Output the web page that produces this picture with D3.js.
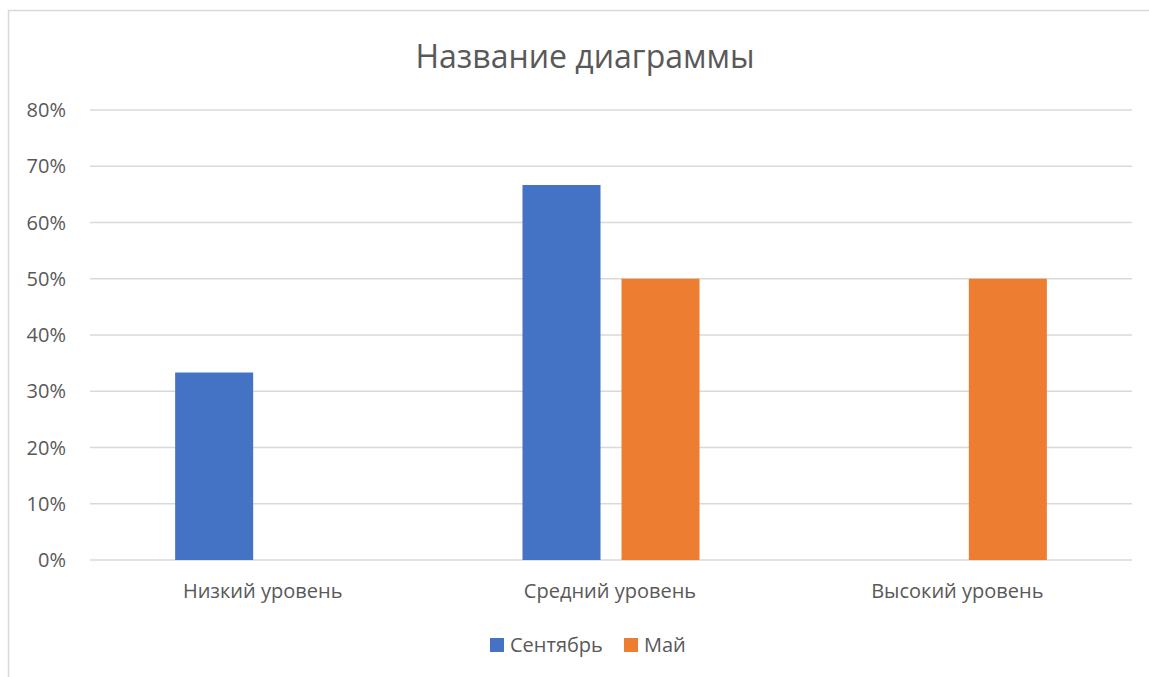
<!DOCTYPE html>
<html><head><meta charset="utf-8">
<script src="https://cdn.jsdelivr.net/npm/d3@7"></script>
<style>html,body{margin:0;padding:0;background:#fff;}</style>
</head><body>
<svg id="c" width="1149" height="677"></svg>
<script>
const categories = ["Низкий уровень", "Средний уровень", "Высокий уровень"];
const seriesNames = ["Сентябрь", "Май"];
const septValues = [0.3333, 0.6667, 0];
const mayValues = [0, 0.5, 0.5];
const yTicks = [0, 0.1, 0.2, 0.3, 0.4, 0.5, 0.6, 0.7, 0.8];
const colors = ["#4472C4", "#ED7D31"];
const title = "Название диаграммы";

(function () {
const values = [septValues, mayValues];
const font = "'Open Sans', 'Noto Sans', sans-serif";
const svg = d3.select("#c");

svg.append("rect").attr("x", 8.5).attr("y", 10.5).attr("width", 1160).attr("height", 700)
  .attr("fill", "#fff").attr("stroke", "#d9d9d9").attr("stroke-width", 1.5);

const pLeft = 90, pRight = 1132, pTop = 110, pBottom = 560;
const x0 = d3.scaleBand().domain(categories).range([pLeft, pRight]).padding(0);
const x1 = d3.scaleBand().domain(seriesNames).range([0, x0.bandwidth()]).paddingInner(0.212).paddingOuter(0.86);
const y = d3.scaleLinear().domain([0, 0.8]).range([pBottom, pTop]);

svg.append("g").selectAll("line").data(yTicks).join("line")
  .attr("x1", pLeft).attr("x2", pRight)
  .attr("y1", d => y(d)).attr("y2", d => y(d))
  .attr("stroke", "#d9d9d9").attr("stroke-width", 1.5);

svg.append("g").selectAll("text").data(yTicks).join("text")
  .attr("x", 66).attr("y", d => y(d)).attr("dy", "0.36em")
  .attr("text-anchor", "end").attr("font-family", font).attr("font-size", 20)
  .attr("fill", "#595959").text(d => d3.format(".0%")(d));

seriesNames.forEach((s, si) => {
  svg.append("g").selectAll("rect").data(categories).join("rect")
    .attr("x", c => x0(c) + x1(s))
    .attr("width", x1.bandwidth())
    .attr("y", (c, i) => y(values[si][i]))
    .attr("height", (c, i) => y(0) - y(values[si][i]))
    .attr("fill", colors[si]);
});

svg.append("g").selectAll("text").data(categories).join("text")
  .attr("x", c => x0(c) + x0.bandwidth() / 2 - 1).attr("y", 598)
  .attr("text-anchor", "middle").attr("font-family", font).attr("font-size", 20)
  .attr("fill", "#595959").text(c => c);

svg.append("text").attr("x", 585).attr("y", 68).attr("text-anchor", "middle")
  .attr("font-family", font).attr("font-size", 32).attr("fill", "#595959").text(title);

const legendX = [490, 624];
seriesNames.forEach((s, si) => {
  svg.append("rect").attr("x", legendX[si]).attr("y", 638).attr("width", 14).attr("height", 14).attr("fill", colors[si]);
  svg.append("text").attr("x", legendX[si] + 20).attr("y", 652)
    .attr("font-family", font).attr("font-size", 20).attr("fill", "#595959").text(s);
});
})();
</script>
</body></html>
